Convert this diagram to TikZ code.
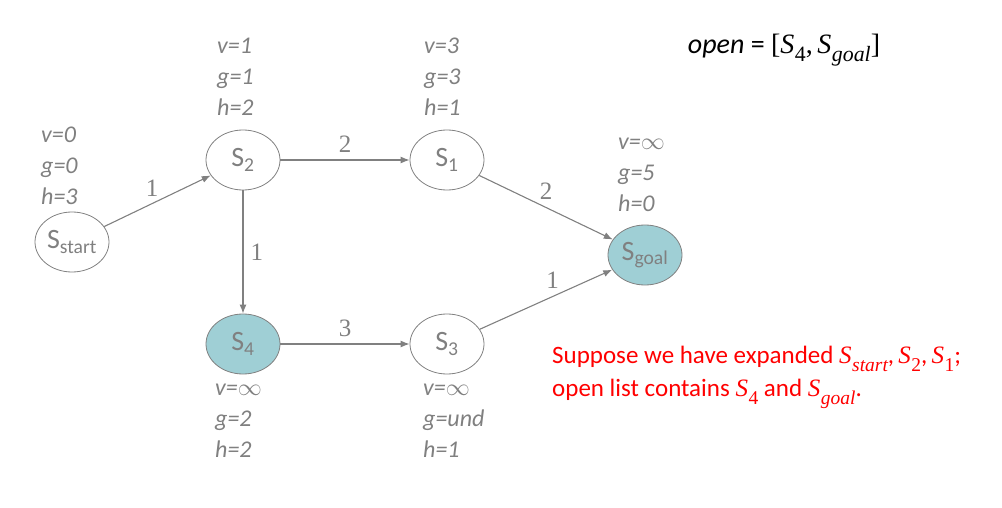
\RequirePackage{fix-cm}
\documentclass[tikz,border=0pt]{standalone}
\usepackage{fontspec}
\setmainfont{Carlito}
\newfontfamily\costfont{Liberation Serif}
\newcommand{\mvar}[1]{{\costfont\itshape S\kern0.5pt\raisebox{-0.3em}{\scalebox{0.78}{#1}}}}
\usetikzlibrary{shapes.geometric, arrows.meta}
\definecolor{edgegray}{HTML}{808080}
\definecolor{frontiercyan}{HTML}{9FCFD5}
\tikzset{
    state/.style={ellipse, draw=edgegray, line width=0.8pt, minimum width=74pt,
        minimum height=60pt, inner sep=0pt, text=edgegray,
        font=\fontsize{28}{28}\selectfont},
    frontier/.style={state, fill=frontiercyan},
    info/.style={anchor=west, align=left, inner sep=0pt, text=edgegray,
        font=\fontsize{24}{31}\selectfont\itshape},
    cost/.style={inner sep=7pt, text=edgegray, font=\costfont\fontsize{25}{25}\selectfont},
    link/.style={draw=edgegray, line width=1.1pt, -{Latex[length=9pt,width=7pt]}}
}

\begin{document}
\begin{tikzpicture}[x=1pt, y=-1pt]
    \useasboundingbox (0,0) rectangle (1002,508);

    \node[state] (start) at (72,242) {S\textsubscript{start}};
    \node[state] (s2) at (243,160) {S\textsubscript{2}};
    \node[state] (s1) at (447,160) {S\textsubscript{1}};
    \node[frontier] (goal) at (645,255) {S\textsubscript{goal}};
    \node[frontier] (s4) at (243,344) {S\textsubscript{4}};
    \node[state] (s3) at (447,344) {S\textsubscript{3}};

    \node[info] (start info) at (41,166) {v=0\\g=0\\h=3};
    \node[info] (s2 info) at (217,77) {v=1\\g=1\\h=2};
    \node[info] (s1 info) at (424,77) {v=3\\g=3\\h=1};
    \node[info] (goal info) at (618,175) {v=$\infty$\\g=5\\h=0};
    \node[info] (s4 info) at (215,421) {v=$\infty$\\g=2\\h=2};
    \node[info] (s3 info) at (423,421) {v=$\infty$\\g=und\\h=1};

    \draw[link] (start) -- node[cost, above, pos=0.45] {1} (s2);
    \draw[link] (s2) -- node[cost, above] {2} (s1);
    \draw[link] (s1) -- node[cost, above] {2} (goal);
    \draw[link] (s2) -- node[cost, right] {1} (s4);
    \draw[link] (s4) -- node[cost, above] {3} (s3);
    \draw[link] (s3) -- node[cost, above, pos=0.55] {1} (goal);

    \node (open list) at (784,50) {\fontsize{28}{28}\selectfont\textit{open} =
        {\costfont[\mvar{\upshape 4},\,\mvar{goal}]}};
    \node[anchor=north west, align=left, inner sep=0pt, text=red,
        font=\fontsize{25}{33}\selectfont] (note) at (552,346)
        {Suppose we have expanded \mvar{start},\,\mvar{\upshape 2},\,\mvar{\upshape 1};\\open list contains \mvar{\upshape 4} and \mvar{goal}.};
\end{tikzpicture}
\end{document}
